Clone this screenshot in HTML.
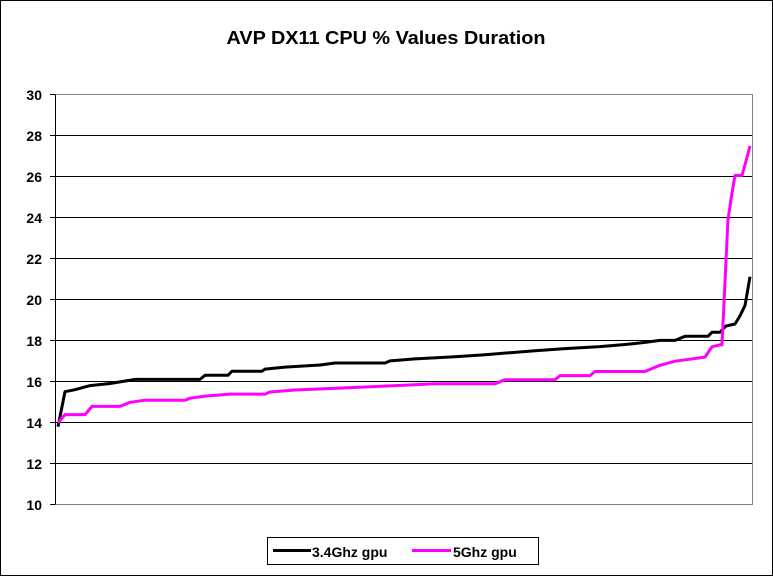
<!DOCTYPE html>
<html><head><meta charset="utf-8"><style>
html,body{margin:0;padding:0;background:#fff}
svg{display:block}
text{font-family:"Liberation Sans",Arial,sans-serif;font-weight:bold;fill:#000}
</style></head><body>
<svg width="773" height="576" viewBox="0 0 773 576" xmlns="http://www.w3.org/2000/svg">
<rect x="0.5" y="0.5" width="772" height="575" fill="#fff" stroke="#000" stroke-width="1"/>
<text x="386" y="44" font-size="18" text-anchor="middle" textLength="319" lengthAdjust="spacingAndGlyphs">AVP DX11 CPU % Values Duration</text>
<g stroke="#000" stroke-width="1">
<line x1="55" y1="135.5" x2="752" y2="135.5"/>
<line x1="55" y1="176.5" x2="752" y2="176.5"/>
<line x1="55" y1="217.5" x2="752" y2="217.5"/>
<line x1="55" y1="258.5" x2="752" y2="258.5"/>
<line x1="55" y1="299.5" x2="752" y2="299.5"/>
<line x1="55" y1="340.5" x2="752" y2="340.5"/>
<line x1="55" y1="381.5" x2="752" y2="381.5"/>
<line x1="55" y1="422.5" x2="752" y2="422.5"/>
<line x1="55" y1="463.5" x2="752" y2="463.5"/>
<line x1="50" y1="94.5" x2="55" y2="94.5"/>
<line x1="50" y1="135.5" x2="55" y2="135.5"/>
<line x1="50" y1="176.5" x2="55" y2="176.5"/>
<line x1="50" y1="217.5" x2="55" y2="217.5"/>
<line x1="50" y1="258.5" x2="55" y2="258.5"/>
<line x1="50" y1="299.5" x2="55" y2="299.5"/>
<line x1="50" y1="340.5" x2="55" y2="340.5"/>
<line x1="50" y1="381.5" x2="55" y2="381.5"/>
<line x1="50" y1="422.5" x2="55" y2="422.5"/>
<line x1="50" y1="463.5" x2="55" y2="463.5"/>
<line x1="50" y1="504.5" x2="55" y2="504.5"/>
</g>
<rect x="55.5" y="94.5" width="697" height="410" fill="none" stroke="#808080" stroke-width="1"/>
<line x1="55.5" y1="94.5" x2="55.5" y2="504.5" stroke="#000"/>
<g font-size="14" text-anchor="end">
<text x="42" y="100">30</text><text x="42" y="141">28</text><text x="42" y="182">26</text>
<text x="42" y="223">24</text><text x="42" y="264">22</text><text x="42" y="305">20</text>
<text x="42" y="346">18</text><text x="42" y="387">16</text><text x="42" y="428">14</text>
<text x="42" y="469">12</text><text x="42" y="510">10</text>
</g>
<polyline fill="none" stroke="#000" stroke-width="3" stroke-linejoin="round" points="58,426.7 65,391.7 75,389.7 90,385.6 110,383.5 135,379.4 200,379.4 205,375.3 228,375.3 232,371.2 262,371.2 265,369.1 285,367.1 320,365.0 335,363.0 385,363.0 390,360.9 415,358.9 455,356.8 485,354.8 510,352.7 535,350.7 565,348.6 600,346.6 625,344.5 645,342.4 660,340.4 675,340.4 685,336.3 708,336.3 712,332.2 720,332.2 726,326.0 735,324.0 740,315.8 745,305.5 750,276.8"/>
<polyline fill="none" stroke="#ff00ff" stroke-width="3" stroke-linejoin="round" points="58,422.8 65,414.6 85,414.6 92,406.4 120,406.4 130,402.3 145,400.2 185,400.2 190,398.2 205,396.1 230,394.1 265,394.1 270,392.0 295,390.0 345,387.9 390,385.9 435,383.8 495,383.8 505,379.7 555,379.7 560,375.6 590,375.6 595,371.5 645,371.5 660,365.3 675,361.2 690,359.2 705,357.1 712,346.8 720,344.8 722,344.8 728,219.6 732,193.0 735,175.5 742,175.5 746,161.1 750,146.0"/>
<rect x="267.5" y="537.5" width="271" height="27" fill="#fff" stroke="#000" stroke-width="1"/>
<line x1="273" y1="550.5" x2="311" y2="550.5" stroke="#000" stroke-width="3"/>
<text x="312" y="557" font-size="14">3.4Ghz gpu</text>
<line x1="412" y1="550.5" x2="451" y2="550.5" stroke="#ff00ff" stroke-width="3"/>
<text x="453" y="557" font-size="14">5Ghz gpu</text>
</svg>
</body></html>
